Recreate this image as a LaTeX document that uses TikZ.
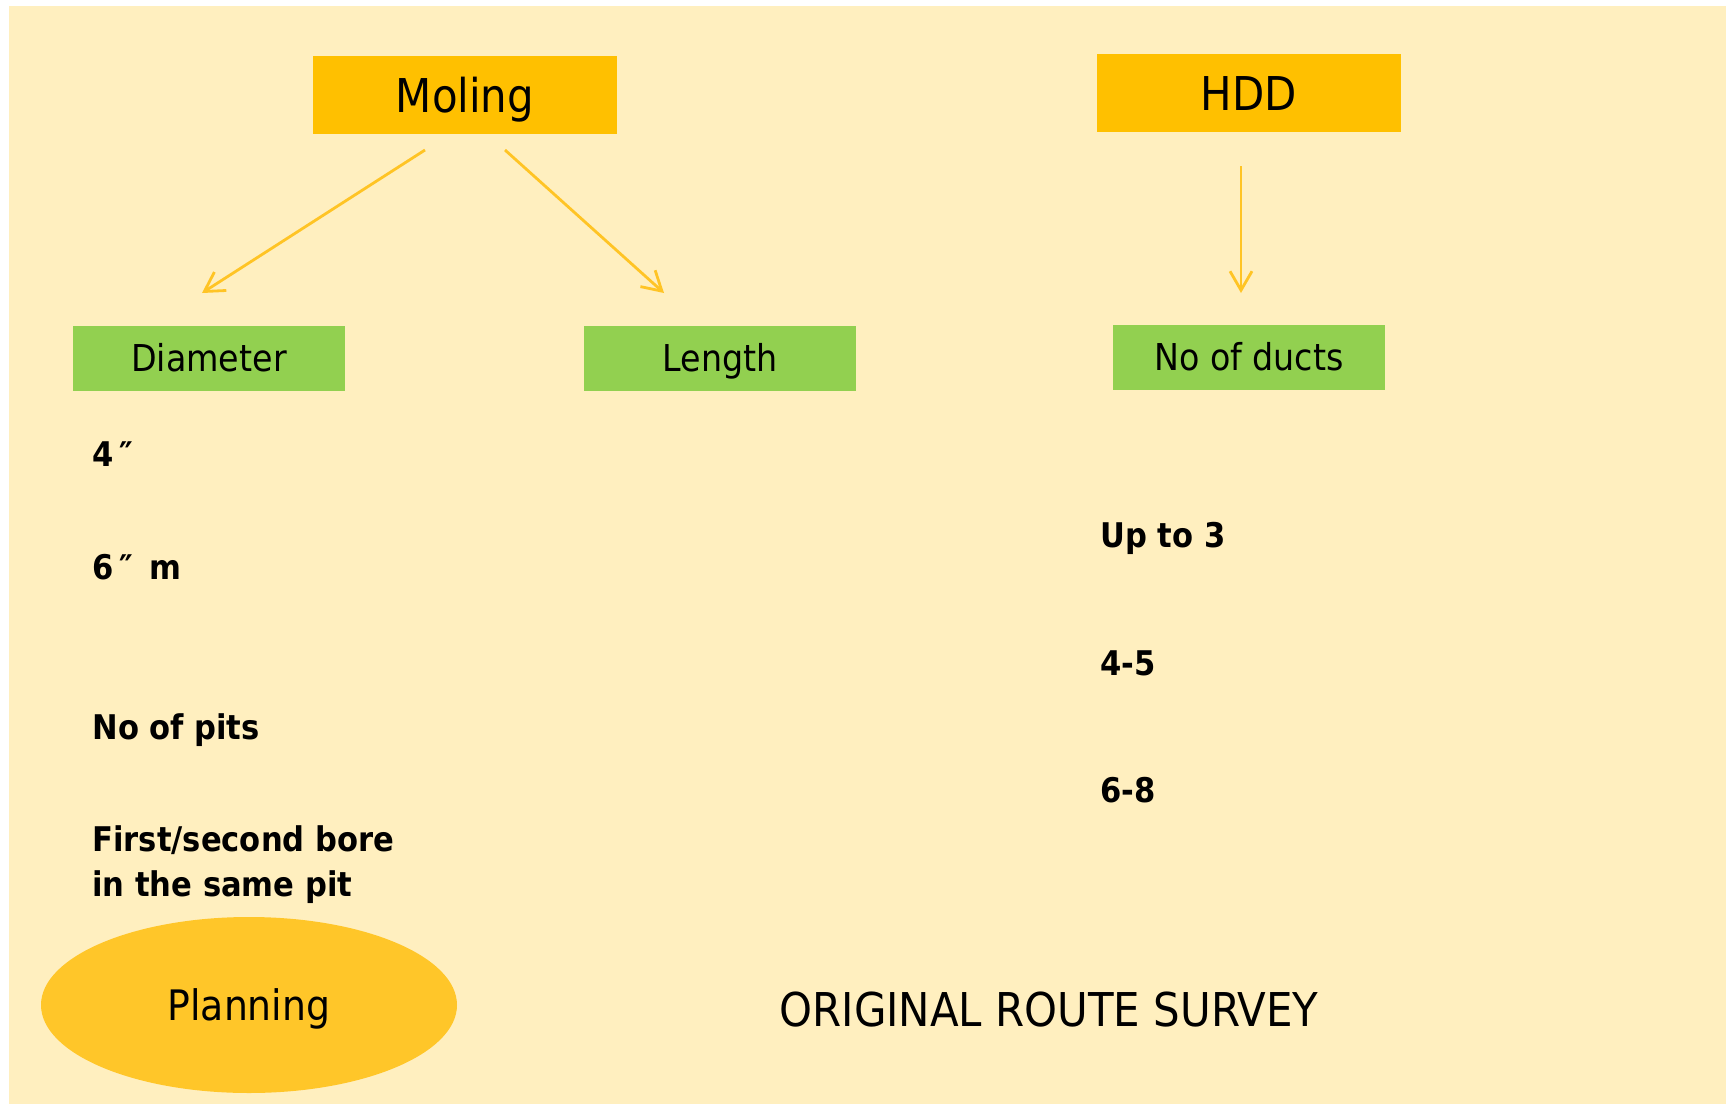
\documentclass[tikz,border=0pt]{standalone}
\usepackage{fontspec}
\setmainfont{DejaVu Sans Condensed}
\usetikzlibrary{shapes.geometric,arrows.meta}
\definecolor{paper}{RGB}{255,239,191}
\definecolor{gold}{RGB}{255,192,0}
\definecolor{leaf}{RGB}{146,208,80}
\definecolor{sun}{RGB}{255,198,41}
\definecolor{arrowc}{RGB}{255,196,37}

\begin{document}
\begin{tikzpicture}[x=0.5pt, y=-0.5pt,
	head/.style = {fill=gold, minimum width=152pt, minimum height=39pt, text height=17pt, text depth=0pt, font=\fontsize{23.3}{28}\selectfont},
	sub/.style = {fill=leaf, minimum width=136pt, minimum height=32.5pt, text height=13.5pt, text depth=0pt, font=\fontsize{18.5}{22}\selectfont},
	item/.style = {anchor=base west, inner sep=0pt, align=left, font=\bfseries\fontsize{17}{22.5}\selectfont},
	link/.style = {draw=arrowc, line width=1.4pt, -{Straight Barb[length=9.5pt,width=11pt]}}]
		\useasboundingbox (0,0) rectangle (1726,1104);
		\fill[paper] (9,6) rectangle (1726,1104);
		\node[head] (moling) at (465,95) {Moling};
		\node[head] (hdd) at (1249,93) {HDD};
		\node[sub] (diam) at (209,358) {Diameter};
		\node[sub] (len) at (720,358) {Length};
		\node[sub] (ducts) at (1249,357) {No of ducts};
		\coordinate (m1) at (425,150);
		\coordinate (m2) at (202,293);
		\coordinate (m3) at (505,150);
		\coordinate (m4) at (664,293);
		\coordinate (h1) at (1241,166);
		\coordinate (h2) at (1241,293);
		\draw[link] (m1) -- (m2);
		\draw[link] (m3) -- (m4);
		\draw[link] (h1) -- (h2);
		\node[item] (d1) at (92,466) {4\,″};
		\node[item] (d2) at (92,579) {6\,″\,\ m};
		\node[item] (d3) at (92,739) {No of pits};
		\node[item] (d4) at (92,896) {First/second bore\\in the same pit};
		\node[item] (n1) at (1100,547) {Up to 3};
		\node[item] (n2) at (1100,675) {4-5};
		\node[item] (n3) at (1100,802) {6-8};
		\node[ellipse, fill=sun, minimum width=208pt, minimum height=88pt, inner sep=0pt, text height=15.5pt, text depth=0pt, font=\fontsize{21}{25}\selectfont] (plan) at (249,1005) {Planning};
		\node[anchor=base, inner sep=0pt, font=\fontsize{23.3}{28}\selectfont] (route) at (1049,1026) {ORIGINAL ROUTE SURVEY};
	\end{tikzpicture}
\end{document}
